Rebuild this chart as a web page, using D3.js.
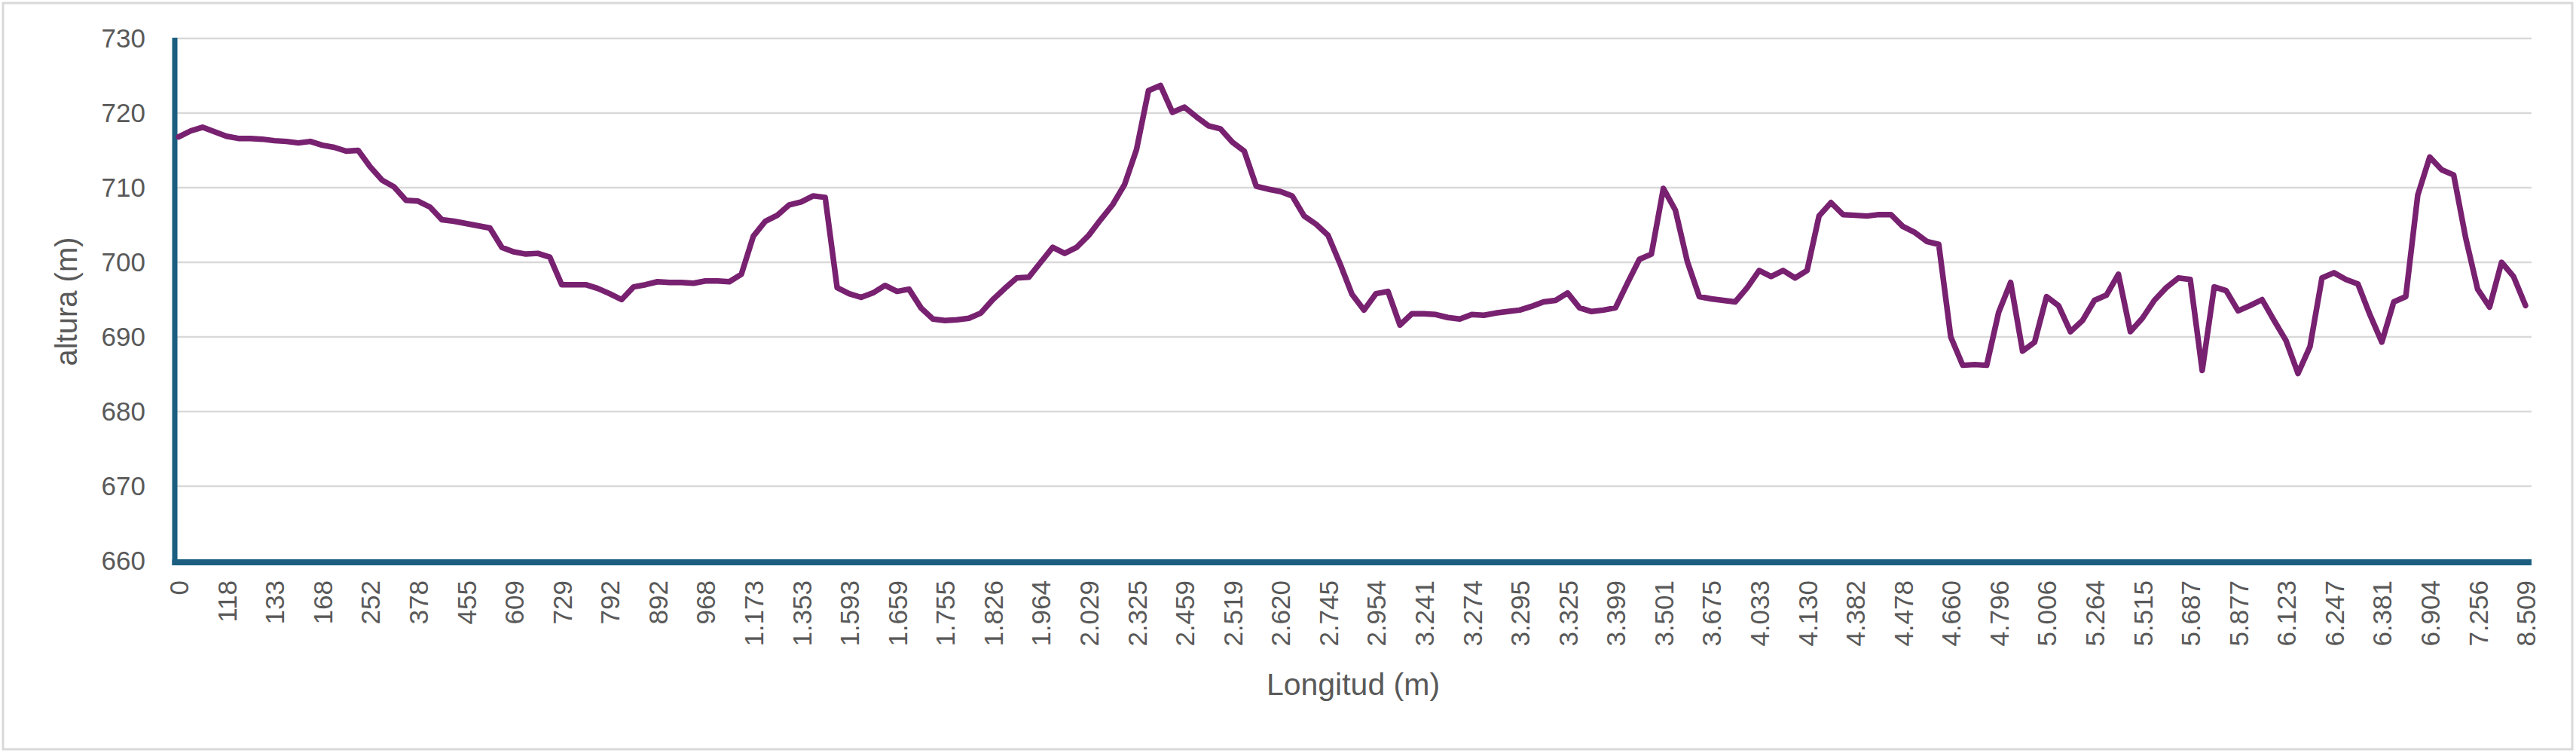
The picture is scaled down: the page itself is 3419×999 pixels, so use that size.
<!DOCTYPE html>
<html lang="es">
<head>
  <meta charset="UTF-8" />
  <title>Perfil de altura</title>
  <script src="https://d3js.org/d3.v7.min.js"></script>
  <style>
    body { margin: 0; background: white; }
    .tick text { font-family: "Liberation Sans", Arial, sans-serif; fill: #595959; }
    .title { font-family: "Liberation Sans", Arial, sans-serif; fill: #595959; }
  </style>
</head>
<body>
  <svg id="chart" width="3419" height="999"></svg>

  <script>
    // x tick labels (one every 4 points, as Excel shows them)
    const xLabels = ["0","118","133","168","252","378","455","609","729","792",
      "892","968","1.173","1.353","1.593","1.659","1.755","1.826","1.964","2.029",
      "2.325","2.459","2.519","2.620","2.745","2.954","3.241","3.274","3.295","3.325",
      "3.399","3.501","3.675","4.033","4.130","4.382","4.478","4.660","4.796","5.006",
      "5.264","5.515","5.687","5.877","6.123","6.247","6.381","6.904","7.256","8.509"];
    const labelStep = 4;

    // altura (m) por punto
    const altura = [
      716.8,717.6,718.1,717.5,716.9,716.6,716.6,716.5,716.3,716.2,
      716.0,716.2,715.7,715.4,714.9,715.0,712.8,711.0,710.1,708.3,
      708.2,707.4,705.7,705.5,705.2,704.9,704.6,702.0,701.4,701.1,
      701.2,700.7,697.0,697.0,697.0,696.5,695.8,695.0,696.7,697.0,
      697.4,697.3,697.3,697.2,697.5,697.5,697.4,698.4,703.5,705.5,
      706.3,707.7,708.1,708.9,708.7,696.6,695.8,695.3,695.9,696.9,
      696.1,696.4,693.9,692.4,692.2,692.3,692.5,693.2,695.0,696.5,
      697.9,698.0,700.0,702.0,701.2,702.0,703.6,705.7,707.7,710.4,
      715.1,723.0,723.7,720.1,720.8,719.5,718.3,717.9,716.1,714.9,
      710.2,709.8,709.5,708.9,706.2,705.1,703.6,699.8,695.7,693.6,
      695.8,696.1,691.6,693.1,693.1,693.0,692.6,692.4,693.0,692.9,
      693.2,693.4,693.6,694.1,694.7,694.9,695.9,693.9,693.4,693.6,
      693.9,697.2,700.4,701.1,709.9,707.0,700.1,695.4,695.1,694.9,
      694.7,696.6,698.9,698.1,698.9,697.9,698.9,706.2,708.0,706.4,
      706.3,706.2,706.4,706.4,704.8,704.0,702.8,702.4,690.0,686.2,
      686.3,686.2,693.3,697.3,688.1,689.3,695.4,694.2,690.7,692.2,
      694.9,695.6,698.4,690.7,692.5,694.9,696.6,697.9,697.7,685.5,
      696.7,696.2,693.5,694.2,695.0,692.2,689.5,685.1,688.7,697.9,
      698.6,697.7,697.1,693.0,689.3,694.7,695.4,709.0,714.1,712.4,
      711.7,703.3,696.4,694.0,700.0,698.1,694.2];

    const yTicks = [660, 670, 680, 690, 700, 710, 720, 730];

    const svg = d3.select("#chart"),
          width = +svg.attr("width"),
          height = +svg.attr("height");

    const axisColor = "#1B5E80";
    const plotLeft = 232, plotRight = 3360;

    // outer chart border
    svg.append("rect")
      .attr("x", 4).attr("y", 4)
      .attr("width", width - 9).attr("height", height - 9)
      .attr("fill", "white")
      .attr("stroke", "#d9d9d9")
      .attr("stroke-width", 3);

    const x = d3.scalePoint()
      .domain(d3.range(altura.length))
      .range([237, 3352]);

    const y = d3.scaleLinear()
      .domain([660, 730])
      .range([744, 51]);

    // gridlines
    svg.append("g")
      .selectAll("line")
      .data(yTicks.slice(1))
      .join("line")
      .attr("x1", plotLeft).attr("x2", plotRight)
      .attr("y1", d => y(d)).attr("y2", d => y(d))
      .attr("stroke", "#d9d9d9")
      .attr("stroke-width", 2.5);

    // y labels
    const yAxis = svg.append("g")
      .attr("transform", "translate(193,0)")
      .call(d3.axisLeft(y).tickValues(yTicks).tickSize(0).tickPadding(0));
    yAxis.select(".domain").remove();
    yAxis.selectAll("text").attr("font-size", 35);

    // x labels
    const xAxis = svg.append("g")
      .attr("transform", "translate(0,746)")
      .call(d3.axisBottom(x)
        .tickValues(d3.range(0, altura.length, labelStep))
        .tickFormat(i => xLabels[i / labelStep])
        .tickSize(0));
    xAxis.select(".domain").remove();
    xAxis.selectAll("text")
      .attr("font-size", 35)
      .attr("transform", "rotate(-90)")
      .attr("text-anchor", "end")
      .attr("x", -24)
      .attr("y", 0)
      .attr("dy", "0.36em");

    // axis lines
    svg.append("line")
      .attr("x1", plotLeft).attr("x2", plotLeft)
      .attr("y1", 50).attr("y2", 750)
      .attr("stroke", axisColor).attr("stroke-width", 7);
    svg.append("line")
      .attr("x1", plotLeft - 3.5).attr("x2", plotRight)
      .attr("y1", 746).attr("y2", 746)
      .attr("stroke", axisColor).attr("stroke-width", 8);

    // elevation line
    const line = d3.line()
      .x((d, i) => x(i))
      .y(d => y(d));

    svg.append("path")
      .datum(altura)
      .attr("fill", "none")
      .attr("stroke", "#782170")
      .attr("stroke-width", 7.5)
      .attr("stroke-linejoin", "round")
      .attr("stroke-linecap", "round")
      .attr("d", line);

    // titles
    svg.append("text")
      .attr("class", "title")
      .attr("transform", "translate(102,400) rotate(-90)")
      .attr("text-anchor", "middle")
      .attr("font-size", 40)
      .text("altura (m)");

    svg.append("text")
      .attr("class", "title")
      .attr("x", 1796)
      .attr("y", 922)
      .attr("text-anchor", "middle")
      .attr("font-size", 41)
      .text("Longitud (m)");
  </script>
</body>
</html>
